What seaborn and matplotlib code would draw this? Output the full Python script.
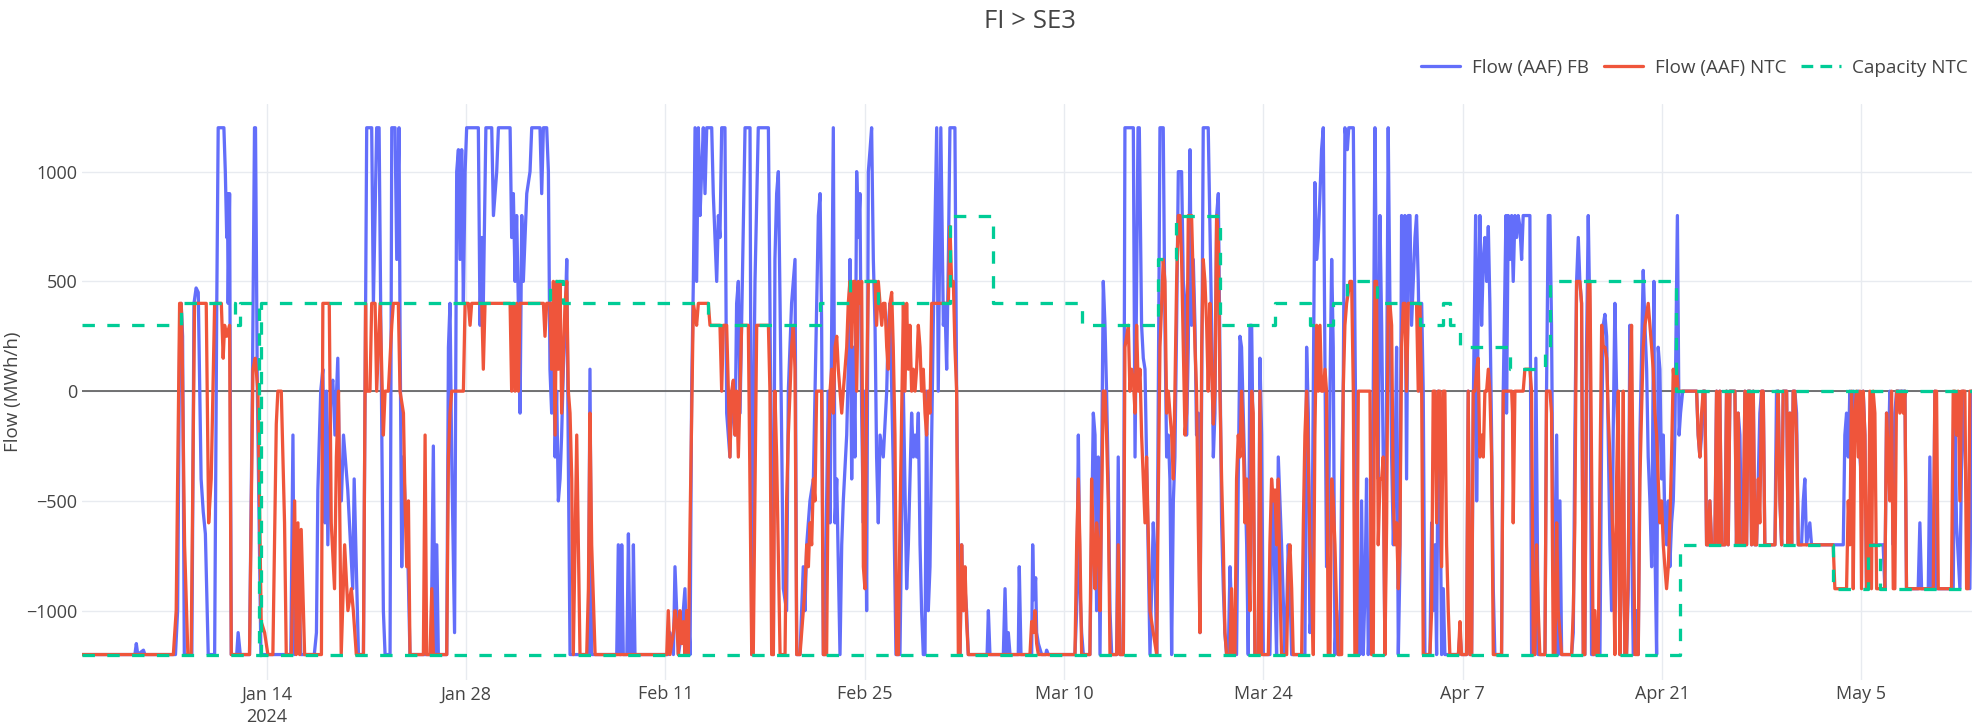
import numpy as np
import pandas as pd
import matplotlib
matplotlib.use("Agg")
import matplotlib.pyplot as plt
import seaborn as sns
from matplotlib.lines import Line2D

# ---------------- data ----------------
title = "FI > SE3"
y_label = "Flow (MWh/h)"
series_names = ["Flow (AAF) FB", "Flow (AAF) NTC", "Capacity NTC"]
start_date = "2024-01-01"
end_day = 132.77

# (days since start, MWh/h)
fb_points = [
(0,-1200),(3.75,-1200),(3.85,-1150),(3.95,-1200),(4.35,-1180),(4.45,-1200),(6.6,-1200),(6.75,-1000),(6.9,300),(7.0,400),(7.1,250),(7.22,-1200),(7.75,-1200),(7.9,400),(8.05,470),(8.2,450),(8.4,-400),(8.55,-550),(8.7,-650),(8.9,-1200),(9.35,-1200),(9.5,400),(9.6,1200),(10.0,1200),(10.1,1000),(10.2,700),(10.25,900),(10.3,400),(10.4,900),(10.52,-1200),(10.9,-1200),(11.0,-1100),(11.15,-1200),(11.8,-1200),(12.0,0),(12.15,1200),(12.22,1200),(12.35,0),(12.6,-1200),(14.7,-1200),(14.85,-200),(14.95,-1200),(15.2,-700),(15.4,-1200),(16.35,-1200),(16.5,-1100),(16.6,-450),(16.8,0),(16.95,100),(17.1,-600),(17.2,0),(17.3,-700),(17.5,0),(17.65,50),(17.8,-200),(18.0,150),(18.1,-300),(18.25,-500),(18.4,-200),(18.7,-450),(19.05,-900),(19.15,-400),(19.45,-1200),(19.8,-1200),(20.03,1200),(20.38,1200),(20.5,400),(20.73,1200),(20.9,1200),(21.08,-100),(21.2,-1000),(21.32,-1200),(21.67,-1200),(21.79,1200),(22.02,1200),(22.14,600),(22.3,1200),(22.37,300),(22.49,-800),(22.61,-300),(22.72,-500),(22.9,-700),(23.07,-1200),(24.55,-1200),(24.71,-250),(24.83,-1200),(24.95,-700),(25.06,-1200),(25.65,-1200),(25.77,200),(25.88,400),(26.0,-300),(26.2,-1100),(26.35,1000),(26.47,1100),(26.58,600),(26.7,1100),(26.82,400),(26.94,1000),(27.05,1200),(27.87,1200),(27.99,300),(28.11,700),(28.22,400),(28.4,1200),(28.81,1200),(28.93,800),(29.16,1000),(29.28,1200),(30.1,1200),(30.21,700),(30.33,900),(30.45,500),(30.56,800),(30.68,400),(30.8,-100),(30.92,800),(31.03,500),(31.27,900),(31.5,1000),(31.62,1200),(32.2,1200),(32.32,900),(32.44,1200),(32.67,1200),(32.79,1000),(32.9,100),(33.02,-100),(33.14,300),(33.26,-300),(33.37,0),(33.49,-500),(33.61,-400),(33.72,-200),(33.84,100),(33.96,300),(34.08,600),(34.19,-300),(34.31,-1200),(35.6,-1200),(35.71,100),(35.83,-1200),(37.59,-1200),(37.7,-700),(37.82,-1200),(37.88,-1200),(37.94,-700),(38.05,-1200),(38.3,-1200),(38.41,-650),(38.52,-1200),(38.7,-1200),(38.76,-700),(38.87,-1200),(41.2,-1200),(41.33,-1100),(41.57,-1200),(41.68,-800),(41.8,-1000),(41.92,-1200),(42.15,-1100),(42.38,-900),(42.5,-1200),(42.62,-1000),(42.74,-1200),(42.85,0),(42.97,500),(43.09,1200),(43.2,500),(43.32,1200),(43.44,800),(43.55,1000),(43.67,1200),(43.79,900),(43.91,1200),(44.26,1200),(44.37,900),(44.61,500),(44.73,800),(44.84,700),(44.96,1200),(45.19,1200),(45.31,-100),(45.54,-300),(45.66,0),(45.9,-200),(46.01,400),(46.13,500),(46.25,-100),(46.36,300),(46.6,1200),(46.95,1200),(47.07,-1200),(47.18,-200),(47.3,500),(47.53,1200),(48.24,1200),(48.35,400),(48.47,-600),(48.59,-1200),(48.7,600),(48.82,900),(48.94,1000),(49.06,400),(49.17,-200),(49.29,-900),(49.52,-1000),(49.64,0),(49.87,400),(50.11,600),(50.23,-1200),(50.46,-1200),(50.69,-800),(50.81,-1000),(50.93,-700),(51.16,-500),(51.4,-400),(51.63,400),(51.75,800),(51.87,900),(51.98,300),(52.1,-1200),(52.22,-1200),(52.33,-500),(52.45,0),(52.57,-600),(52.8,1200),(52.92,-600),(53.04,-400),(53.27,-1200),(53.39,-700),(53.5,-500),(53.74,-200),(53.85,100),(53.97,600),(54.09,-400),(54.21,200),(54.32,-300),(54.44,1000),(54.56,700),(54.67,900),(54.79,-100),(54.91,-600),(55.02,0),(55.14,-1000),(55.26,1000),(55.38,1100),(55.49,1200),(55.61,600),(55.73,300),(55.84,-300),(55.96,-600),(56.08,-200),(56.31,-300),(56.55,0),(56.66,300),(56.78,400),(56.9,0),(57.01,-350),(57.2,-1200),(57.48,-1200),(57.72,0),(57.95,-900),(58.07,-700),(58.3,-100),(58.42,-300),(58.54,-200),(58.65,-300),(58.77,-100),(58.89,-700),(59.0,-1000),(59.12,-1200),(59.24,-1200),(59.35,0),(59.47,-1000),(59.59,-800),(59.71,-200),(59.82,300),(60.06,1200),(60.17,0),(60.35,1200),(60.53,300),(60.64,400),(60.76,100),(60.88,600),(60.99,1200),(61.34,1200),(61.46,0),(61.58,-700),(61.7,-1200),(61.81,-700),(61.93,-1000),(62.05,-900),(62.16,-1000),(62.28,-1200),(63.6,-1200),(63.69,-1000),(63.8,-1200),(64.74,-1200),(64.86,-900),(64.97,-1200),(65.09,-1100),(65.21,-1200),(65.79,-1200),(65.86,-800),(65.98,-1200),(66.73,-1200),(66.8,-700),(66.89,-950),(67.01,-850),(67.08,-1100),(67.2,-1150),(67.43,-1200),(67.72,-1200),(67.78,-1180),(67.9,-1200),(69.77,-1200),(69.89,-1000),(70.01,-200),(70.12,-900),(70.24,-1100),(70.36,-1200),(70.82,-1200),(71.06,-100),(71.18,-200),(71.29,-1000),(71.41,-300),(71.53,-1200),(71.76,500),(71.88,300),(71.99,0),(72.11,-400),(72.23,-1000),(72.35,-1200),(72.7,-1200),(72.81,-300),(72.93,-1200),(73.17,-1200),(73.28,1200),(73.87,1200),(73.99,-300),(74.2,1200),(74.29,1200),(74.45,300),(74.57,150),(74.69,100),(74.8,-300),(75.04,-1200),(75.27,-600),(75.39,-800),(75.51,-1200),(75.74,1200),(75.97,1200),(76.09,300),(76.21,-300),(76.33,-200),(76.44,-400),(76.56,-1200),(76.68,-500),(76.79,-300),(76.91,300),(77.03,1000),(77.14,1000),(77.26,1000),(77.38,500),(77.5,400),(77.61,-200),(77.73,200),(77.85,1100),(77.96,300),(78.08,600),(78.2,300),(78.31,-200),(78.43,-100),(78.55,-1100),(78.67,0),(78.78,1200),(79.13,1200),(79.37,300),(79.49,-300),(79.6,-100),(79.72,800),(79.84,900),(79.95,200),(80.07,-600),(80.19,-900),(80.3,-1100),(80.42,-1200),(80.54,-1200),(80.66,-800),(80.77,-1000),(80.89,-1200),(81.12,-1200),(81.24,-400),(81.36,250),(81.47,200),(81.59,-100),(81.71,-400),(81.83,-700),(81.94,-1200),(82.06,300),(82.18,300),(82.29,-300),(82.41,-1200),(82.65,-1200),(82.76,150),(82.88,-200),(83.0,-1200),(83.46,-1200),(83.58,-700),(83.7,-500),(83.82,-900),(83.93,-1200),(84.05,-300),(84.28,-700),(84.52,-1200),(84.64,-1000),(84.75,-700),(84.87,-900),(84.99,-1200),(85.92,-1200),(86.04,200),(86.16,-100),(86.27,-1100),(86.39,-1000),(86.51,0),(86.62,950),(86.74,600),(86.86,700),(86.98,900),(87.09,1100),(87.21,1200),(87.33,100),(87.44,-800),(87.56,-700),(87.68,0),(87.8,600),(87.91,200),(88.03,-1200),(88.15,-1000),(88.26,-1200),(88.38,-1200),(88.5,-400),(88.61,0),(88.73,1200),(88.9,1100),(89.0,1200),(89.32,1200),(89.43,300),(89.55,-600),(89.67,-1000),(89.78,-1200),(89.9,-500),(90.02,-1200),(90.14,-900),(90.25,-400),(90.37,-1200),(90.49,-1000),(90.72,0),(90.84,1200),(90.95,400),(91.07,-400),(91.19,800),(91.31,300),(91.42,-300),(91.54,-1200),(91.66,0),(91.77,1200),(91.89,400),(92.01,-300),(92.13,-700),(92.24,-400),(92.36,200),(92.48,-1200),(92.59,-800),(92.71,800),(92.83,300),(92.94,800),(93.06,-400),(93.18,800),(93.3,800),(93.41,300),(93.53,500),(93.65,700),(93.76,800),(93.88,500),(94.0,0),(94.12,400),(94.23,0),(94.35,-1200),(94.7,-1200),(94.82,-600),(94.93,-1000),(95.05,-700),(95.17,-1200),(95.29,0),(95.4,-300),(95.52,-1200),(95.64,-900),(95.75,-1200),(96.7,-1200),(96.81,-1100),(96.92,-1200),(97.27,-1200),(97.39,0),(97.51,-1200),(97.63,-1200),(97.74,-100),(97.91,800),(97.98,-500),(98.09,400),(98.21,800),(98.33,300),(98.45,600),(98.56,700),(98.68,500),(98.8,750),(98.91,400),(99.03,-200),(99.15,-900),(99.26,-1200),(99.73,-1200),(99.85,0),(100.04,800),(100.08,-100),(100.2,800),(100.32,600),(100.44,800),(100.55,500),(100.67,800),(100.79,700),(100.9,800),(101.02,750),(101.14,600),(101.25,800),(101.72,800),(101.84,-1200),(102.07,-1200),(102.14,150),(102.31,-1200),(102.78,-1200),(102.89,0),(103.01,800),(103.13,800),(103.24,300),(103.36,-700),(103.48,-1200),(103.6,-200),(103.71,-1200),(103.83,-500),(103.95,-1200),(104.65,-1200),(104.77,-1100),(104.88,-200),(105.0,500),(105.12,700),(105.23,500),(105.35,400),(105.47,-1200),(105.58,-1200),(105.7,200),(105.82,800),(105.94,300),(106.05,-1200),(106.64,-1200),(106.76,-200),(106.87,300),(106.99,350),(107.11,250),(107.22,-200),(107.34,-700),(107.46,-1000),(107.57,-200),(107.69,400),(107.81,0),(107.93,-300),(108.04,-1200),(108.28,-200),(108.39,-1200),(108.51,-1200),(108.63,-900),(108.74,300),(108.86,-600),(108.98,-1200),(109.21,-1000),(109.33,-1200),(109.45,-200),(109.68,550),(109.8,300),(109.92,100),(110.03,-300),(110.15,-500),(110.27,-800),(110.43,500),(110.5,-700),(110.62,-1200),(110.73,200),(110.85,100),(110.97,-400),(111.09,-200),(111.2,-600),(111.32,-700),(111.44,-500),(111.55,-800),(111.67,-600),(111.79,-500),(111.9,-200),(112.08,800),(112.2,-200),(112.3,-100),(112.45,0),(113.43,0),(113.54,-200),(113.66,-300),(113.78,-200),(113.89,0),(114.01,0),(114.13,-700),(114.25,-700),(114.36,-500),(114.48,-700),(114.71,-700),(114.83,0),(114.95,-700),(115.06,0),(115.18,-700),(115.42,-700),(115.53,0),(115.65,-700),(115.77,0),(116.12,0),(116.23,-700),(116.35,-100),(116.47,-200),(116.59,-700),(116.7,-700),(116.82,0),(116.94,-700),(117.05,0),(117.17,0),(117.29,-700),(117.41,0),(117.52,-700),(117.64,-700),(117.76,-400),(117.87,-100),(117.99,0),(118.11,0),(118.22,-700),(118.93,-700),(119.04,0),(119.16,0),(119.28,-500),(119.4,-700),(119.51,0),(119.75,0),(119.86,-700),(119.98,-100),(120.1,-700),(120.21,0),(120.33,0),(120.45,-100),(120.57,-700),(120.8,-700),(120.92,-500),(121.03,-400),(121.15,-700),(121.38,-600),(121.5,-700),(123.73,-700),(123.84,-200),(123.96,-100),(124.08,-300),(124.19,0),(124.31,-400),(124.43,0),(124.54,-50),(124.66,-200),(124.78,0),(124.9,-300),(125.01,-400),(125.13,0),(125.25,-200),(125.36,-900),(125.48,-700),(126.53,-700),(126.65,-900),(126.77,-100),(126.89,-300),(127.0,0),(127.12,-200),(127.24,-700),(127.35,-100),(127.47,0),(128.06,0),(128.17,-900),(128.99,-900),(129.11,-600),(129.23,-900),(129.7,-900),(129.81,-300),(129.93,-900),(130.05,-900),(130.16,0),(130.28,-900),(131.45,-900),(131.57,-100),(131.68,-600),(131.92,-900),(132.04,-300),(132.15,0),(132.39,-500),(132.62,-900),(132.76,0),
]

ntc_points = [
(0,-1200),(6.45,-1200),(6.65,-1000),(6.89,400),(7.0,400),(7.05,300),(7.24,-700),(7.47,-1200),(7.7,-1200),(7.94,400),(8.76,400),(8.93,-600),(9.11,-400),(9.35,400),(9.82,400),(9.95,150),(10.05,300),(10.2,250),(10.4,300),(10.52,-1200),(11.8,-1200),(12.04,100),(12.2,150),(12.39,0),(12.62,-1050),(12.86,-1100),(13.09,-1200),(13.44,-1200),(13.68,-150),(13.79,0),(14.03,0),(14.26,-600),(14.38,-1200),(14.73,-1200),(14.97,-500),(15.08,-1200),(15.2,-600),(15.32,-1200),(15.43,-630),(15.67,-1200),(16.85,-1200),(16.95,400),(17.4,400),(17.54,-600),(17.77,-900),(17.9,-300),(18.05,0),(18.24,-1200),(18.48,-700),(18.71,-1000),(18.95,-900),(19.09,-1000),(19.3,-1200),(19.8,-1200),(19.95,400),(20.03,0),(20.26,0),(20.38,400),(20.62,400),(20.73,0),(20.97,400),(21.2,-200),(21.32,0),(21.55,0),(21.79,300),(21.9,400),(22.25,400),(22.37,0),(22.61,-100),(22.72,-500),(22.84,-800),(22.96,-500),(23.07,-1200),(24.01,-1200),(24.13,-200),(24.24,-1200),(24.48,-1200),(24.6,-900),(24.71,-1200),(25.65,-1200),(25.77,-300),(25.88,-100),(26.0,0),(26.82,0),(26.94,400),(27.17,400),(27.29,300),(27.4,400),(28.11,400),(28.22,100),(28.34,400),(30.1,400),(30.21,0),(30.33,400),(30.45,0),(30.56,400),(30.68,0),(30.8,400),(32.44,400),(32.55,250),(32.67,400),(32.9,400),(33.02,100),(33.14,500),(33.26,-200),(33.37,500),(33.49,100),(33.61,500),(33.72,-100),(33.96,400),(34.08,500),(34.19,0),(34.31,-100),(34.43,-400),(34.54,-1200),(34.78,-200),(35.01,-1200),(35.48,-1200),(35.6,-900),(35.71,-100),(35.83,-700),(36.07,-1200),(41.1,-1200),(41.21,-1000),(41.33,-1200),(41.57,-1100),(41.68,-1000),(41.8,-1050),(41.92,-1200),(42.03,-1000),(42.15,-1150),(42.27,-1050),(42.38,-1200),(42.5,-1000),(42.62,-1200),(42.74,-600),(42.97,400),(43.09,350),(43.2,300),(43.32,400),(44.02,400),(44.14,300),(44.84,300),(44.96,0),(45.08,300),(45.31,300),(45.43,0),(45.54,-300),(45.66,0),(45.78,50),(45.9,-200),(46.01,0),(46.13,-300),(46.25,0),(46.36,300),(46.83,300),(47.07,-1200),(47.18,-1200),(47.42,300),(48.24,300),(48.35,0),(48.47,-1200),(48.59,-1200),(48.7,0),(48.82,-300),(49.06,-1200),(49.41,-1200),(49.52,-500),(49.64,-200),(49.76,0),(49.87,200),(49.99,300),(50.11,100),(50.23,-1200),(50.46,-1200),(50.69,-1000),(50.81,-900),(50.93,-700),(51.05,-800),(51.16,-600),(51.28,-700),(51.4,-400),(51.51,-500),(51.63,0),(51.98,0),(52.1,-1200),(52.33,-1200),(52.45,-300),(52.57,0),(52.68,100),(52.8,-100),(52.92,200),(53.04,250),(53.15,100),(53.27,0),(53.39,-100),(53.5,0),(53.62,100),(53.74,200),(53.85,400),(53.97,500),(54.09,200),(54.21,500),(54.32,500),(54.44,0),(54.56,500),(54.67,400),(54.79,500),(54.91,-800),(55.02,-900),(55.14,0),(55.26,500),(55.73,500),(55.84,300),(55.96,500),(56.08,400),(56.2,300),(56.31,400),(56.43,400),(56.55,200),(56.66,100),(56.78,400),(56.9,450),(57.01,200),(57.13,-200),(57.25,-1200),(57.37,-1200),(57.48,-600),(57.72,400),(57.83,0),(57.95,400),(58.07,100),(58.18,300),(58.3,0),(58.42,100),(58.54,0),(58.65,100),(58.77,300),(58.89,200),(59.0,0),(59.12,100),(59.24,-100),(59.35,-200),(59.47,0),(59.59,-100),(59.71,400),(60.88,400),(60.99,750),(61.11,500),(61.23,500),(61.34,200),(61.46,0),(61.58,-1200),(61.7,-1200),(61.81,-700),(61.93,-1000),(62.05,-800),(62.16,-1050),(62.28,-1200),(66.61,-1200),(66.73,-1050),(66.85,-1100),(66.96,-1000),(67.08,-1150),(67.2,-1200),(69.77,-1200),(69.89,-700),(70.01,-400),(70.12,-700),(70.24,-1200),(70.82,-1200),(70.94,-400),(71.06,-700),(71.18,-900),(71.29,-600),(71.41,-700),(71.53,-1000),(71.76,0),(71.88,0),(71.99,-200),(72.11,-500),(72.23,-1200),(72.7,-1200),(72.81,-700),(72.93,-1200),(73.17,-1200),(73.28,200),(73.4,250),(73.52,300),(73.63,0),(73.75,100),(73.87,50),(73.99,-100),(74.1,300),(74.22,0),(74.34,100),(74.45,-200),(74.57,-400),(74.69,-600),(74.8,-300),(75.04,-1000),(75.27,-1100),(75.51,-1200),(75.62,-500),(75.74,200),(75.86,400),(75.97,600),(76.09,500),(76.21,-100),(76.33,0),(76.44,-100),(76.56,-200),(76.68,-400),(76.79,0),(76.91,500),(77.03,800),(77.14,800),(77.26,600),(77.38,200),(77.5,-200),(77.61,-100),(77.73,800),(77.96,800),(78.08,500),(78.2,200),(78.31,0),(78.43,-600),(78.55,-1100),(78.67,200),(78.78,600),(78.9,500),(79.02,300),(79.13,0),(79.25,400),(79.37,100),(79.49,-150),(79.6,0),(79.72,800),(79.84,700),(79.95,0),(80.07,-400),(80.19,-700),(80.3,-1100),(80.42,-1200),(80.66,-1200),(80.77,-900),(80.89,-1200),(81.01,-1200),(81.12,-400),(81.24,-200),(81.36,-300),(81.47,0),(81.59,-200),(81.71,-600),(81.83,-400),(81.94,-700),(82.06,-1000),(82.18,0),(82.29,-100),(82.41,-1200),(82.65,-1200),(82.76,0),(82.88,-1200),(83.35,-1200),(83.46,-700),(83.58,-400),(83.7,-500),(83.82,-450),(83.93,-700),(84.05,-400),(84.17,-900),(84.28,-1200),(84.64,-1200),(84.75,-800),(84.87,-700),(84.99,-900),(85.1,-1200),(85.69,-1200),(85.81,-600),(85.92,-200),(86.04,0),(86.16,-300),(86.27,-700),(86.39,-900),(86.51,-1200),(86.62,-200),(86.74,300),(86.86,0),(86.98,300),(87.09,0),(87.21,0),(87.33,100),(87.44,0),(87.56,-1200),(87.68,-1200),(87.8,-400),(87.91,-500),(88.03,-700),(88.15,-1000),(88.26,-1200),(88.5,-1200),(88.61,0),(88.73,300),(88.85,400),(88.97,450),(89.08,500),(89.2,500),(89.32,0),(89.43,-1200),(89.55,-1200),(89.67,0),(90.49,0),(90.6,-1200),(90.72,-1200),(90.84,500),(90.95,500),(91.07,-700),(91.19,-400),(91.31,-400),(91.42,-300),(91.54,-1200),(91.66,-600),(91.77,400),(91.89,400),(92.01,300),(92.13,-500),(92.24,-700),(92.36,-600),(92.48,-900),(92.59,-700),(92.71,200),(92.83,400),(92.94,400),(93.06,0),(93.18,400),(93.76,400),(93.88,0),(94.0,400),(94.12,0),(94.23,-1200),(94.7,-1200),(94.82,-1000),(94.93,0),(95.05,0),(95.17,-600),(95.29,0),(95.4,0),(95.52,-800),(95.64,0),(95.75,0),(95.87,-700),(95.99,-1000),(96.1,-1200),(96.7,-1200),(96.81,-1050),(96.92,-1200),(97.27,-1200),(97.39,0),(97.51,-1200),(97.63,-1200),(97.74,0),(97.86,0),(97.98,100),(98.09,150),(98.21,-300),(98.33,-200),(98.45,-300),(98.56,0),(98.68,0),(98.8,100),(98.91,0),(99.03,-300),(99.15,-1200),(99.73,-1200),(99.85,0),(100.44,0),(100.5,-100),(100.55,-600),(100.67,0),(101.25,0),(101.37,100),(101.72,100),(101.84,0),(101.96,-1200),(102.07,-1200),(102.19,-700),(102.31,-1000),(102.42,-1200),(102.78,-1200),(102.89,0),(103.13,0),(103.24,-100),(103.36,-1200),(103.48,-1200),(103.6,-600),(103.71,-1000),(103.83,-1100),(103.95,-1200),(104.65,-1200),(104.77,-1000),(104.88,-600),(105.0,500),(105.23,500),(105.35,400),(105.47,-1200),(105.58,-1200),(105.7,0),(105.82,500),(105.94,500),(106.05,-300),(106.17,-1200),(106.29,-1000),(106.4,-1200),(106.52,-1200),(106.64,-400),(106.76,300),(106.87,200),(106.99,200),(107.11,150),(107.22,-100),(107.34,-300),(107.46,-500),(107.57,-700),(107.69,-1200),(107.81,-400),(107.93,0),(108.04,-1200),(108.16,-800),(108.28,0),(108.39,-1200),(108.51,-1200),(108.63,-800),(108.74,0),(108.86,300),(108.98,-500),(109.1,-1200),(109.33,-1200),(109.45,-400),(109.56,-100),(109.68,200),(109.8,300),(110.03,400),(110.15,300),(110.27,200),(110.38,100),(110.5,-100),(110.62,-200),(110.73,-400),(110.85,-600),(110.97,-500),(111.09,-700),(111.2,-800),(111.32,-900),(111.44,-800),(111.55,-600),(111.67,-300),(111.79,100),(111.9,0),(112.02,100),(112.14,0),(113.43,0),(113.54,-200),(113.66,-300),(113.78,-100),(113.89,0),(114.01,0),(114.13,-700),(114.25,-700),(114.36,-500),(114.48,-700),(114.71,-700),(114.83,0),(114.95,-700),(115.06,0),(115.18,-700),(115.42,-700),(115.53,0),(115.65,-700),(115.77,0),(116.12,0),(116.23,-700),(116.35,-100),(116.47,-700),(116.7,-700),(116.82,0),(116.94,-700),(117.05,0),(117.17,0),(117.29,-700),(117.41,0),(117.52,-700),(117.64,-700),(117.76,-400),(117.87,-600),(117.99,0),(118.11,0),(118.22,-700),(118.93,-700),(119.04,-300),(119.16,0),(119.28,-500),(119.4,-700),(119.51,0),(119.75,0),(119.86,-700),(119.98,-100),(120.1,-700),(120.21,0),(120.33,0),(120.45,-200),(120.57,-700),(123.02,-700),(123.14,-900),(123.96,-900),(124.08,-500),(124.19,-700),(124.31,0),(124.43,-900),(124.54,-100),(124.66,0),(124.78,-300),(124.9,0),(125.01,-900),(125.13,0),(125.25,-200),(125.36,-900),(125.48,-900),(125.6,0),(125.71,-900),(125.83,0),(125.95,-100),(126.07,-900),(126.65,-900),(126.77,-100),(126.89,-300),(127.0,-500),(127.12,0),(127.24,-900),(127.35,-900),(127.47,0),(127.59,0),(127.7,-100),(127.82,0),(127.94,-100),(128.06,0),(128.17,-900),(130.05,-900),(130.16,0),(130.28,0),(130.4,-900),(131.33,-900),(131.45,0),(131.57,0),(131.68,-200),(131.8,0),(131.92,-500),(132.04,0),(132.27,0),(132.39,-900),(132.5,-900),(132.62,0),(132.76,0),
]

# capacity step changes (day the new value starts, value)
cap_up_day = [0, 7.0, 10.75, 11.15, 12.45, 12.6, 32.9, 33.84, 44.0, 51.9, 53.97, 55.96, 61.0, 64.04, 70.24,
              75.6, 76.9, 79.95, 83.8, 86.27, 87.9, 88.85, 90.95, 94.0, 95.6, 96.1, 96.8, 100.3, 102.8, 103.1,
              112.0, 132.77]
cap_up_val = [300, 400, 300, 400, -1200, 400, 500, 400, 300, 400, 500, 400, 800, 400, 300,
              600, 800, 300, 400, 300, 400, 500, 400, 300, 400, 300, 200, 100, 200, 500,
              0, 0]
cap_lo_day = [0, 112.25, 123.0, 125.5, 126.3, 132.77]
cap_lo_val = [-1200, -700, -900, -700, -900, -900]

x_tick_dates = ["2024-01-14", "2024-01-28", "2024-02-11", "2024-02-25", "2024-03-10",
                "2024-03-24", "2024-04-07", "2024-04-21", "2024-05-05"]
x_tick_labels = ["Jan 14\n2024", "Jan 28", "Feb 11", "Feb 25", "Mar 10",
                 "Mar 24", "Apr 7", "Apr 21", "May 5"]
y_ticks = [-1000, -500, 0, 500, 1000]

colors = ["#636EFA", "#EF553B", "#00CC96"]

# ---------------- helpers ----------------
t0 = pd.Timestamp(start_date)


def to_frame(days, vals):
    return pd.DataFrame({"time": t0 + pd.to_timedelta(np.asarray(days, float), unit="D"),
                         "value": np.asarray(vals, float)})


fb_df = to_frame([p[0] for p in fb_points], [p[1] for p in fb_points])
ntc_df = to_frame([p[0] for p in ntc_points], [p[1] for p in ntc_points])
cap_up_df = to_frame(cap_up_day, cap_up_val)
cap_lo_df = to_frame(cap_lo_day, cap_lo_val)

# ---------------- figure ----------------
sns.set_theme(style="white")
plt.rcParams["font.family"] = ["Open Sans", "DejaVu Sans"]
plt.rcParams["axes.unicode_minus"] = True

W, H = 1972, 727
fig = plt.figure(figsize=(W / 100, H / 100), dpi=100)
fig.patch.set_facecolor("white")

left_px, right_px, top_px, bottom_px = 81.5, 1972, 103.6, 679.8
ax = fig.add_axes([left_px / W, 1 - bottom_px / H, (right_px - left_px) / W, (bottom_px - top_px) / H])
ax.set_facecolor("white")

lw = 2.35
sns.lineplot(data=fb_df, x="time", y="value", ax=ax, color=colors[0], linewidth=lw,
             estimator=None, sort=False, legend=False, zorder=3)
sns.lineplot(data=ntc_df, x="time", y="value", ax=ax, color=colors[1], linewidth=lw,
             estimator=None, sort=False, legend=False, zorder=4)
dash = (0, (3.8, 3.8))
for df in (cap_up_df, cap_lo_df):
    sns.lineplot(data=df, x="time", y="value", ax=ax, color=colors[2], linewidth=lw,
                 estimator=None, sort=False, legend=False, zorder=5,
                 drawstyle="steps-post", linestyle=dash)

ax.set_xlim(t0, t0 + pd.Timedelta(days=end_day))
ax.set_ylim(-1315, 1310)

ax.set_xticks(pd.to_datetime(x_tick_dates))
ax.set_xticklabels(x_tick_labels, fontsize=13, color="#444444", linespacing=1.3)
ax.set_yticks(y_ticks)
ax.set_yticklabels([str(v).replace("-", "\u2212") for v in y_ticks], fontsize=13, color="#444444")
ax.tick_params(axis="x", length=0, pad=4)
ax.tick_params(axis="y", length=0, pad=3)
for lab in ax.get_xticklabels():
    lab.set_horizontalalignment("center")

ax.grid(True, color="#E8EBF0", linewidth=1.0)
ax.set_axisbelow(True)
ax.axhline(0, color="#4d4d4d", linewidth=1.1, zorder=2)
for s in ax.spines.values():
    s.set_visible(False)

ax.set_xlabel("")
ax.set_ylabel(y_label, fontsize=13.5, color="#444444")
ax.yaxis.set_label_coords((22 - left_px) / (right_px - left_px), 0.5)

fig.text(1030 / W, 1 - 21 / H, title, ha="center", va="center", fontsize=18.5, color="#444444")

handles = [Line2D([], [], color=colors[0], lw=lw),
           Line2D([], [], color=colors[1], lw=lw),
           Line2D([], [], color=colors[2], lw=lw, linestyle=(0, (3.6, 2.2)))]
fig.legend(handles, series_names, loc="center right", bbox_to_anchor=(1968 / W, 1 - 68 / H),
           ncol=3, frameon=False, fontsize=13.6, handlelength=2.1, handletextpad=0.6,
           columnspacing=0.8, labelcolor="#444444", borderaxespad=0, borderpad=0)

fig.savefig("out.png", dpi=100, facecolor="white")
